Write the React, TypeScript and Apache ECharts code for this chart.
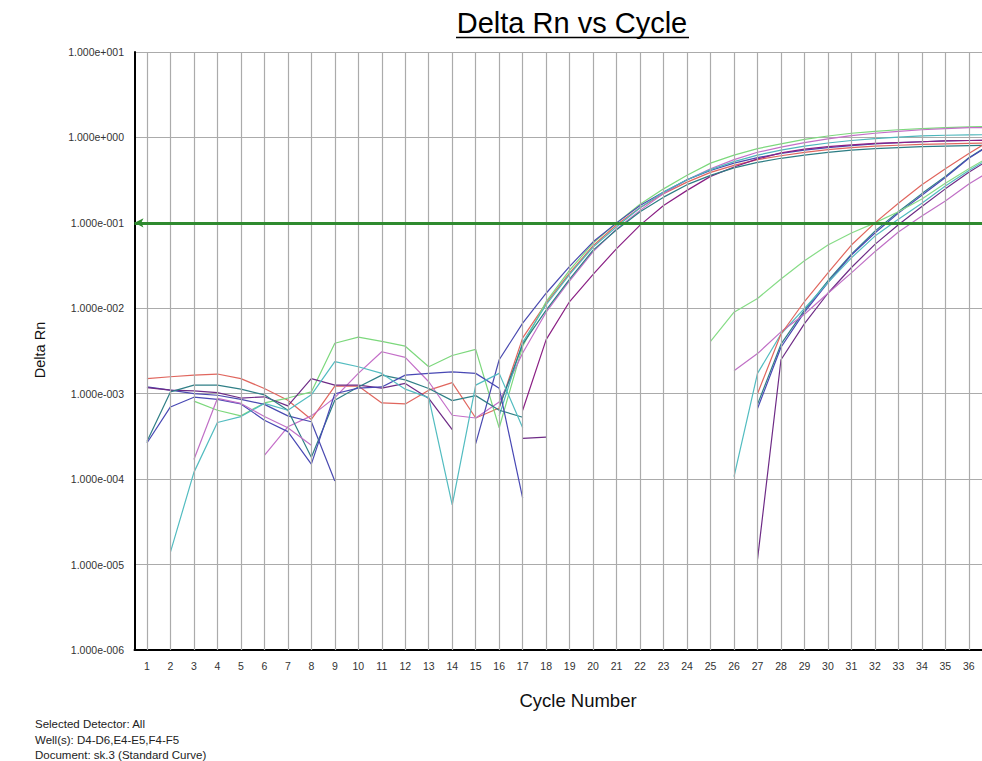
import React, { useEffect, useRef } from "react";
import * as echarts from "echarts";

// Cycle numbers (37th only partly visible at the right edge)
const cycles = [1, 2, 3, 4, 5, 6, 7, 8, 9, 10, 11, 12, 13, 14, 15, 16, 17, 18, 19, 20, 21, 22, 23, 24, 25, 26, 27, 28, 29, 30, 31, 32, 33, 34, 35, 36, 37];
const tickCycles = [1, 2, 3, 4, 5, 6, 7, 8, 9, 10, 11, 12, 13, 14, 15, 16, 17, 18, 19, 20, 21, 22, 23, 24, 25, 26, 27, 28, 29, 30, 31, 32, 33, 34, 35, 36];
const yTicks = [1e-6, 1e-5, 1e-4, 1e-3, 1e-2, 1e-1, 1, 10];
const threshold = 0.1;

const _ = null;

// Early amplifying wells
const redE = [1.5e-3, 1.58e-3, 1.65e-3, 1.7e-3, 1.5e-3, 1.15e-3, 8.4e-4, 5.0e-4, 1.23e-3, 1.23e-3, 7.8e-4, 7.6e-4, 1.1e-3, 1.35e-3, 5.2e-4, 6.8e-4, 4.5e-3, 1.15e-2, 2.6e-2, 5.4e-2, 0.095, 0.15, 0.22, 0.3, 0.39, 0.47, 0.55, 0.61, 0.67, 0.72, 0.76, 0.79, 0.81, 0.83, 0.84, 0.85, 0.86];
const greenE = [_, _, 8.2e-4, 6.4e-4, 5.5e-4, 7.8e-4, 8.9e-4, 1.05e-3, 3.9e-3, 4.6e-3, 4.1e-3, 3.6e-3, 2.07e-3, 2.8e-3, 3.3e-3, 4.0e-4, 3.6e-3, 1.2e-2, 2.8e-2, 5.8e-2, 0.1, 0.165, 0.25, 0.36, 0.5, 0.62, 0.74, 0.84, 0.95, 1.04, 1.12, 1.18, 1.23, 1.27, 1.3, 1.33, 1.34];
const orchidE = [_, _, _, _, _, 1.9e-4, 4.1e-4, 5.5e-4, 9.0e-4, 1.73e-3, 3.1e-3, 2.66e-3, 1.38e-3, 5.6e-4, 5.2e-4, 8.0e-4, 3.0e-3, 9.0e-3, 2.1e-2, 4.6e-2, 0.085, 0.14, 0.22, 0.32, 0.43, 0.55, 0.67, 0.77, 0.87, 0.96, 1.05, 1.12, 1.18, 1.23, 1.27, 1.3, 1.31];
const blueE = [1.2e-3, 1.1e-3, 1.0e-3, 9.6e-4, 8.6e-4, 7.5e-4, 5.5e-4, 4.7e-4, 9.5e-5, _, _, _, _, _, 2.6e-4, 2.5e-3, 6.7e-3, 1.5e-2, 3.1e-2, 6.0e-2, 0.1, 0.16, 0.23, 0.32, 0.41, 0.5, 0.58, 0.65, 0.71, 0.76, 0.8, 0.84, 0.87, 0.89, 0.91, 0.92, 0.93];
const magentaE = [_, _, _, _, _, _, _, _, _, _, _, _, _, _, _, _, 6.4e-4, 4.3e-3, 1.2e-2, 2.5e-2, 5.0e-2, 0.094, 0.16, 0.24, 0.35, 0.45, 0.56, 0.66, 0.73, 0.78, 0.82, 0.85, 0.87, 0.89, 0.91, 0.92, 0.93];
const tealE = [_, _, _, _, _, _, _, _, _, _, _, _, _, _, _, 5.5e-4, 4.0e-3, 1.1e-2, 2.5e-2, 5.2e-2, 0.09, 0.15, 0.23, 0.32, 0.42, 0.52, 0.62, 0.71, 0.79, 0.86, 0.92, 0.97, 1.01, 1.04, 1.06, 1.07, 1.08];
const darkTealE = [_, _, _, _, _, _, _, _, _, _, _, _, _, _, _, 7.0e-4, 3.8e-3, 9.5e-3, 2.2e-2, 4.8e-2, 0.083, 0.135, 0.2, 0.28, 0.36, 0.44, 0.51, 0.57, 0.62, 0.67, 0.71, 0.74, 0.76, 0.78, 0.79, 0.8, 0.81];

// Late amplifying wells
const magentaL = [1.18e-3, 1.1e-3, 1.08e-3, 1.03e-3, 8.9e-4, 9.2e-4, 7.2e-4, 1.5e-3, 1.26e-3, 1.26e-3, 1.16e-3, 1.32e-3, 8.8e-4, 3.8e-4, _, _, 3.0e-4, 3.1e-4, _, _, _, _, _, _, _, _, 1.15e-5, 2.5e-3, 6.6e-3, 1.5e-2, 3.0e-2, 5.6e-2, 9.5e-2, 0.155, 0.25, 0.39, 0.58];
const darkTealL = [2.75e-4, 1.05e-3, 1.26e-3, 1.26e-3, 1.13e-3, 9.7e-4, 6.4e-4, 1.8e-4, 8.4e-4, 1.2e-3, 1.65e-3, 1.45e-3, 1.15e-3, 8.3e-4, 9.5e-4, 6.4e-4, 5.3e-4, _, _, _, _, _, _, _, _, _, 7.5e-4, 3.8e-3, 9.5e-3, 2.1e-2, 4.3e-2, 8.0e-2, 0.135, 0.22, 0.35, 0.58, 0.86];
const blueL = [2.65e-4, 7.0e-4, 9.1e-4, 8.6e-4, 7.6e-4, 4.9e-4, 3.6e-4, 1.5e-4, 1.0e-3, 1.16e-3, 1.2e-3, 1.65e-3, 1.73e-3, 1.8e-3, 1.73e-3, 1.16e-3, 6.0e-5, _, _, _, _, _, _, _, _, _, 6.7e-4, 3.5e-3, 9.0e-3, 2.0e-2, 4.2e-2, 7.6e-2, 0.13, 0.21, 0.34, 0.57, 0.85];
const tealL = [_, 1.4e-5, 1.2e-4, 4.6e-4, 5.4e-4, 7.7e-4, 6.4e-4, 9.7e-4, 2.37e-3, 2.07e-3, 1.73e-3, 1.13e-3, 9.0e-4, 5.0e-5, 1.26e-3, 1.73e-3, 4.0e-4, _, _, _, _, _, _, _, _, 1.07e-4, 1.73e-3, 5.0e-3, 1.0e-2, 2.0e-2, 3.9e-2, 7.0e-2, 0.11, 0.17, 0.27, 0.41, 0.6];
const orchidL = [_, _, 1.7e-4, 8.8e-4, 7.7e-4, 5.4e-4, 4.0e-4, 2.5e-4, _, _, _, _, _, _, _, _, _, _, _, _, _, _, _, _, _, 1.86e-3, 2.95e-3, 5.3e-3, 8.5e-3, 1.5e-2, 2.6e-2, 4.6e-2, 7.8e-2, 0.12, 0.18, 0.285, 0.42];
const greenL = [_, _, _, _, _, _, _, _, _, _, _, _, _, _, _, _, _, _, _, _, _, _, _, _, 4.1e-3, 9.0e-3, 1.3e-2, 2.2e-2, 3.6e-2, 5.5e-2, 7.6e-2, 0.1, 0.135, 0.19, 0.29, 0.43, 0.62];
const redL = [_, _, _, _, _, _, _, _, _, _, _, _, _, _, _, _, _, _, _, _, _, _, _, _, _, _, 1.0e-3, 5.0e-3, 1.2e-2, 2.6e-2, 5.5e-2, 0.1, 0.17, 0.28, 0.43, 0.65, 0.95];

const wells = [
  { name: "D4 early", values: redE, color: "#e0665e" },
  { name: "D5 early", values: greenE, color: "#7cd87c" },
  { name: "D6 early", values: orchidE, color: "#c46ec8" },
  { name: "E4 early", values: blueE, color: "#4a4ab0" },
  { name: "E5 early", values: magentaE, color: "#8a1f84" },
  { name: "F4 early", values: tealE, color: "#4db6bb" },
  { name: "F5 early", values: darkTealE, color: "#2c7d84" },
  { name: "D4 late", values: magentaL, color: "#6e2b86" },
  { name: "D5 late", values: darkTealL, color: "#2f7f86" },
  { name: "D6 late", values: blueL, color: "#4848b4" },
  { name: "E4 late", values: tealL, color: "#52bcc0" },
  { name: "E5 late", values: orchidL, color: "#c070c6" },
  { name: "F4 late", values: greenL, color: "#86dc86" },
  { name: "F5 late", values: redL, color: "#e0665e" },
];

const FONT = "'Liberation Sans', Arial, Helvetica, sans-serif";

function fmtExp(v: number) {
  const e = Math.round(Math.log10(v));
  return "1.000e" + (e < 0 ? "-" : "+") + String(Math.abs(e)).padStart(3, "0");
}

export default function App() {
  const ref = useRef<HTMLDivElement>(null);
  useEffect(() => {
    if (!ref.current) return;
    const chart = echarts.init(ref.current, null, { renderer: "svg" });
    const lineSeries = wells.map((w) => ({
      name: w.name,
      type: "line",
      data: cycles.map((c, i) => [c, w.values[i] == null ? null : w.values[i]]),
      showSymbol: false,
      connectNulls: false,
      clip: true,
      z: 3,
      silent: true,
      lineStyle: { color: w.color, width: 1.2 },
      itemStyle: { color: w.color },
    }));
    chart.setOption({
      animation: false,
      backgroundColor: "#ffffff",
      grid: { left: 134.5, right: 0, top: 52, bottom: 111, containLabel: false },
      xAxis: {
        type: "value",
        min: 0.47,
        max: 36.56,
        axisLine: { show: true, onZero: false, lineStyle: { color: "#000", width: 2 } },
        axisTick: { show: false },
        splitLine: { show: false },
        axisLabel: {
          customValues: tickCycles,
          fontSize: 10.5,
          fontFamily: FONT,
          color: "#333",
          margin: 10,
        },
      },
      yAxis: {
        type: "log",
        logBase: 10,
        min: yTicks[0],
        max: yTicks[yTicks.length - 1],
        axisLine: { show: true, lineStyle: { color: "#000", width: 2 } },
        axisTick: { show: false },
        splitLine: { show: true, lineStyle: { color: "#ababab", width: 1.2 } },
        axisLabel: {
          formatter: (v: number) => fmtExp(v),
          fontSize: 10.5,
          fontFamily: FONT,
          color: "#333",
          margin: 10.5,
        },
      },
      series: [
        {
          type: "line",
          name: "grid",
          data: [],
          z: 1,
          silent: true,
          markLine: {
            silent: true,
            symbol: ["none", "none"],
            label: { show: false },
            emphasis: { disabled: true },
            lineStyle: { color: "#ababab", width: 1.2, type: "solid" },
            data: tickCycles.map((c) => ({ xAxis: c })),
          },
        },
        ...lineSeries,
        {
          type: "line",
          name: "threshold",
          data: [],
          z: 5,
          silent: true,
          markLine: {
            silent: true,
            symbol: ["arrow", "none"],
            symbolSize: [7, 9],
            label: { show: false },
            emphasis: { disabled: true },
            lineStyle: { color: "#2f8a2f", width: 3, type: "solid" },
            data: [{ yAxis: threshold }],
          },
        },
      ],
      graphic: [
        {
          type: "text",
          x: 572,
          y: 23,
          style: {
            text: "Delta Rn vs Cycle",
            font: `29px ${FONT}`,
            fill: "#000",
            textAlign: "center",
            textVerticalAlign: "middle",
          },
        },
        {
          type: "line",
          shape: { x1: 456, y1: 37.5, x2: 689, y2: 37.5 },
          style: { stroke: "#000", lineWidth: 1.6 },
        },
        {
          type: "text",
          x: 40,
          y: 350,
          rotation: Math.PI / 2,
          style: {
            text: "Delta Rn",
            font: `14.5px ${FONT}`,
            fill: "#111",
            textAlign: "center",
            textVerticalAlign: "middle",
          },
        },
        {
          type: "text",
          x: 578,
          y: 700,
          style: {
            text: "Cycle Number",
            font: `18.5px ${FONT}`,
            fill: "#111",
            textAlign: "center",
            textVerticalAlign: "middle",
          },
        },
        {
          type: "text",
          x: 35,
          y: 724,
          style: { text: "Selected Detector: All", font: `11.5px ${FONT}`, fill: "#222", textVerticalAlign: "middle" },
        },
        {
          type: "text",
          x: 35,
          y: 739.5,
          style: { text: "Well(s): D4-D6,E4-E5,F4-F5", font: `11.5px ${FONT}`, fill: "#222", textVerticalAlign: "middle" },
        },
        {
          type: "text",
          x: 35,
          y: 755,
          style: { text: "Document: sk.3 (Standard Curve)", font: `11.5px ${FONT}`, fill: "#222", textVerticalAlign: "middle" },
        },
      ],
    });
    return () => chart.dispose();
  }, []);
  return (
    <div
      ref={ref}
      style={{ position: "fixed", left: 0, top: 0, width: 982, height: 761, background: "#fff" }}
    />
  );
}
